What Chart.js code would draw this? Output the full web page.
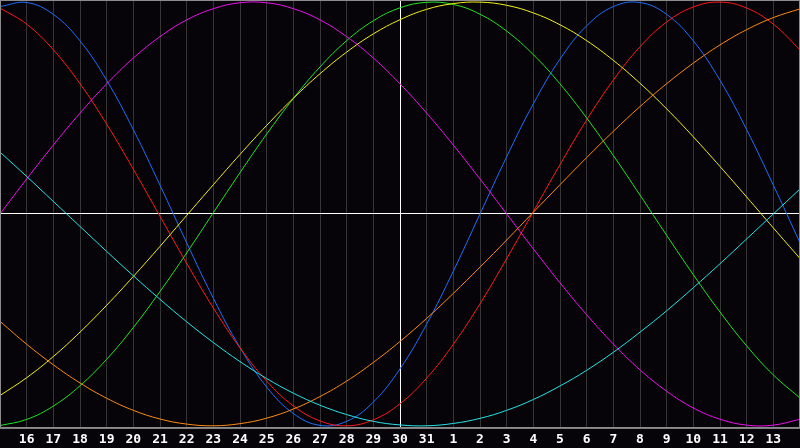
<!DOCTYPE html>
<html>
<head>
<meta charset="utf-8">
<script src="https://cdn.jsdelivr.net/npm/chart.js@4"></script>
<style>
  html, body { margin: 0; padding: 0; background: #060409; }
  canvas { display: block; }
</style>
</head>
<body>
<canvas id="bio" width="800" height="448"></canvas>
<script>
// days along the bottom, the 15th of one month up to the 14th of the next
const dayLabels = ["15", "16", "17", "18", "19", "20", "21", "22", "23", "24", "25", "26", "27", "28", "29", "30", "31",
                   "1", "2", "3", "4", "5", "6", "7", "8", "9", "10", "11", "12", "13", "14"];
const todayIndex = 15; // the white vertical line ("30")

// cycle values, one per day
const physical = [0.979, 0.998, 0.942, 0.817, 0.631, 0.398, 0.136, -0.136, -0.398, -0.631, -0.817, -0.942, -0.998, -0.979, -0.888, -0.731,
                  -0.520, -0.270, 0, 0.270, 0.520, 0.731, 0.888, 0.979, 0.998, 0.942, 0.817, 0.631, 0.398, 0.136, -0.136];
const emotional = [0.972, 0.896, 0.775, 0.615, 0.424, 0.211, -0.011, -0.233, -0.444, -0.632, -0.789, -0.906, -0.977, -1.000, -0.972, -0.896,
                   -0.775, -0.615, -0.424, -0.211, 0.011, 0.233, 0.444, 0.632, 0.789, 0.906, 0.977, 1.000, 0.972, 0.896, 0.775];
const intellectual = [-0.999, -0.970, -0.907, -0.811, -0.686, -0.536, -0.366, -0.184, 0.006, 0.195, 0.377, 0.545, 0.694, 0.818, 0.912, 0.973,
                      0.999, 0.989, 0.943, 0.863, 0.752, 0.614, 0.453, 0.276, 0.089, -0.101, -0.287, -0.463, -0.623, -0.760, -0.869];
const intuitive = [0, 0.165, 0.325, 0.476, 0.614, 0.736, 0.837, 0.916, 0.969, 0.997, 0.997, 0.969, 0.916, 0.837, 0.736, 0.614,
                   0.476, 0.325, 0.165, 0, -0.165, -0.325, -0.476, -0.614, -0.736, -0.837, -0.916, -0.969, -0.997, -0.997, -0.969];
const aesthetic = [-0.857, -0.773, -0.673, -0.558, -0.431, -0.295, -0.153, -0.007, 0.138, 0.281, 0.418, 0.546, 0.662, 0.764, 0.850, 0.917,
                   0.966, 0.993, 1.000, 0.985, 0.949, 0.893, 0.818, 0.725, 0.617, 0.496, 0.364, 0.224, 0.080, -0.066, -0.210];
const awareness = [-0.507, -0.615, -0.712, -0.798, -0.870, -0.927, -0.968, -0.992, -1.000, -0.990, -0.964, -0.921, -0.862, -0.789, -0.701, -0.602,
                   -0.493, -0.375, -0.251, -0.123, 0.008, 0.138, 0.266, 0.390, 0.507, 0.615, 0.712, 0.798, 0.870, 0.927, 0.968];
const spiritual = [0.292, 0.177, 0.059, -0.059, -0.177, -0.292, -0.403, -0.509, -0.607, -0.697, -0.777, -0.846, -0.903, -0.947, -0.979, -0.996,
                   -1.000, -0.989, -0.965, -0.927, -0.876, -0.812, -0.738, -0.653, -0.558, -0.457, -0.348, -0.235, -0.118, 0, 0.118];

const yMin = -1.01, yMax = 1.01;

function points(arr) {
    return arr.map((v, i) => ({ x: i, y: v }));
}

function cycle(label, arr, color) {
    return {
        label: label,
        data: points(arr),
        borderColor: color,
        borderWidth: 1,
        pointRadius: 0,
        tension: 0.4,
        fill: false
    };
}

// black background and grey frame round the plot
const framePlugin = {
    id: 'frame',
    beforeDraw(chart) {
        const c = chart.ctx;
        c.save();
        c.fillStyle = '#060409';
        c.fillRect(0, 0, chart.width, chart.height);
        c.restore();
    },
    afterDraw(chart) {
        const c = chart.ctx, a = chart.chartArea;
        c.save();
        c.strokeStyle = '#8c8c8c';
        c.lineWidth = 1;
        c.strokeRect(a.left + 0.5, a.top + 0.5, a.right - a.left - 1, a.bottom - a.top);
        c.restore();
    }
};

new Chart(document.getElementById('bio'), {
    type: 'line',
    data: {
        datasets: [
            cycle('Spiritual', spiritual, '#22e6e6'),
            cycle('Awareness', awareness, '#ff8a10'),
            cycle('Aesthetic', aesthetic, '#f2f214'),
            cycle('Intuitive', intuitive, '#ee10ee'),
            cycle('Intellectual', intellectual, '#22e622'),
            cycle('Emotional', emotional, '#ff1a1a'),
            cycle('Physical', physical, '#1e6eff')
        ]
    },
    options: {
        responsive: false,
        animation: false,
        devicePixelRatio: 1,
        layout: { padding: { left: 0, right: 0, top: 0, bottom: -3.5 } },
        plugins: {
            legend: { display: false },
            tooltip: { enabled: false }
        },
        scales: {
            x: {
                type: 'linear',
                min: 0,
                max: dayLabels.length - 1,
                afterFit: function(scale) {
                    scale.paddingLeft = 0;
                    scale.paddingRight = 0;
                },
                ticks: {
                    stepSize: 1,
                    autoSkip: false,
                    maxRotation: 0,
                    padding: 4,
                    color: '#ffffff',
                    font: { family: 'DejaVu Sans Mono', size: 13, weight: 'bold' },
                    callback: function(v) {
                        if (v <= 0 || v >= dayLabels.length - 1) return '';
                        return dayLabels[v];
                    }
                },
                grid: {
                    drawTicks: false,
                    lineWidth: 1,
                    color: function(ctx) {
                        return ctx.tick && ctx.tick.value === todayIndex ? '#ffffff' : '#363636';
                    }
                },
                border: { display: true, color: '#8c8c8c' }
            },
            y: {
                min: yMin,
                max: yMax,
                afterBuildTicks: function(axis) {
                    axis.ticks = [{ value: 0 }];
                },
                afterFit: function(scale) {
                    scale.width = 0;
                },
                ticks: { display: false },
                grid: { drawTicks: false, color: '#ffffff', lineWidth: 1 },
                border: { display: false }
            }
        }
    },
    plugins: [framePlugin]
});
</script>
</body>
</html>
